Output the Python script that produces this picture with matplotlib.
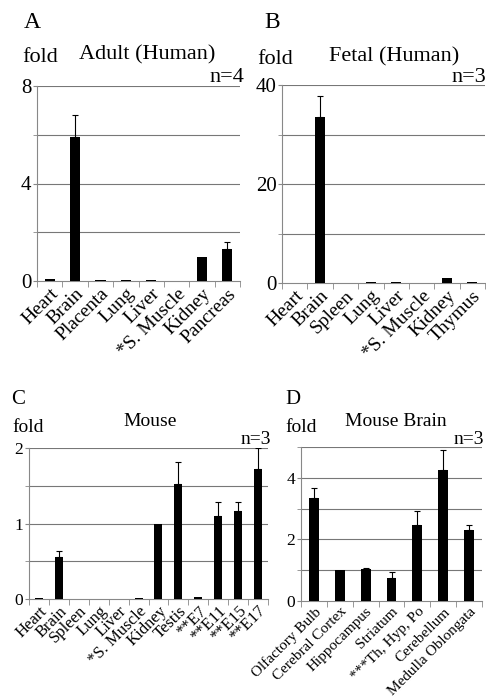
import numpy as np
import matplotlib.pyplot as plt
from matplotlib.ticker import FixedLocator

plt.rcParams['font.family'] = ['Liberation Serif', 'DejaVu Serif']

# panel A - adult human
a_labels = ['Heart', 'Brain', 'Placenta', 'Lung', 'Liver', '*S. Muscle', 'Kidney', 'Pancreas']
a_vals = [0.07, 5.9, 0.03, 0.03, 0.05, 0.0, 1.0, 1.33]
a_err = [0.0, 0.9, 0.0, 0.0, 0.0, 0.0, 0.0, 0.27]

# panel B - fetal human
b_labels = ['Heart', 'Brain', 'Spleen', 'Lung', 'Liver', '*S. Muscle', 'Kidney', 'Thymus']
b_vals = [0.0, 33.5, 0.0, 0.2, 0.2, 0.0, 1.0, 0.2]
b_err = [0.0, 4.3, 0.0, 0.0, 0.0, 0.0, 0.0, 0.0]

# panel C - mouse
c_labels = ['Heart', 'Brain', 'Spleen', 'Lung', 'Liver', '*S. Muscle', 'Kidney', 'Testis',
            '**E7', '**E11', '**E15', '**E17']
c_vals = [0.01, 0.55, 0.005, 0.005, 0.0, 0.01, 1.0, 1.52, 0.02, 1.1, 1.17, 1.72]
c_err = [0.0, 0.09, 0.0, 0.0, 0.0, 0.0, 0.0, 0.29, 0.0, 0.18, 0.11, 0.28]

# panel D - mouse brain
d_labels = ['Olfactory Bulb', 'Cerebral Cortex', 'Hippocampus', 'Striatum',
            '***Th, Hyp, Po', 'Cerebellum', 'Medulla Oblongata']
d_vals = [3.35, 1.0, 1.05, 0.75, 2.48, 4.25, 2.3]
d_err = [0.32, 0.0, 0.02, 0.2, 0.44, 0.65, 0.18]

W, H = 486, 700
fig = plt.figure(figsize=(W / 100, H / 100), dpi=100)


def px(x0, y0, x1, y1):
    return [x0 / W, 1 - y1 / H, (x1 - x0) / W, (y1 - y0) / H]


def txt(x, y, s, size, ha='left'):
    fig.text(x / W, 1 - y / H, s, fontsize=size, ha=ha, va='center')


def panel(rect, labels, vals, err, ymax, ticks, grid, width, lsize, tsize):
    ax = fig.add_axes(rect)
    x = np.arange(len(vals))
    ax.bar(x, vals, width=width, color='black', zorder=3)
    e = np.array(err)
    m = e > 0
    ax.errorbar(x[m], np.array(vals)[m], yerr=[np.zeros(m.sum()), e[m]],
                fmt='none', ecolor='black', elinewidth=0.8, capsize=2, capthick=0.8, zorder=4)
    ax.set_xlim(-0.5, len(vals) - 0.5)
    ax.set_ylim(0, ymax)
    for g in grid:
        ax.axhline(g, color='#777777', lw=0.8, zorder=1)
    ax.set_yticks(ticks)
    ax.yaxis.set_minor_locator(FixedLocator(grid))
    ax.tick_params(axis='y', which='both', length=3, color='#888888', labelsize=tsize, pad=1)
    ax.set_xticks(x)
    ax.set_xticklabels(labels, rotation=45, ha='right', rotation_mode='anchor', fontsize=lsize)
    ax.xaxis.set_minor_locator(FixedLocator(np.arange(len(vals) + 1) - 0.5))
    ax.tick_params(axis='x', which='major', length=0, pad=3)
    ax.tick_params(axis='x', which='minor', length=4, color='#888888')
    for s in ['top', 'right']:
        ax.spines[s].set_visible(False)
    for s in ['left', 'bottom']:
        ax.spines[s].set_color('#888888')
        ax.spines[s].set_linewidth(0.8)
    return ax


panel(px(37, 86, 240, 281), a_labels, a_vals, a_err, 8, [0, 4, 8], [2, 4, 6, 8], 0.4, 14, 15)
panel(px(282, 85, 485, 283), b_labels, b_vals, b_err, 40, [0, 20, 40], [10, 20, 30, 40], 0.4, 14, 15)
panel(px(29, 448, 268, 599), c_labels, c_vals, c_err, 2, [0, 1, 2], [0.5, 1, 1.5, 2], 0.4, 12, 12.5)
panel(px(301, 447, 482, 601), d_labels, d_vals, d_err, 5, [0, 2, 4], [1, 2, 3, 4, 5], 0.38, 11, 12.5)

txt(24, 23, 'A', 17)
txt(22, 58, 'fold', 16)
txt(147, 55, 'Adult (Human)', 16, ha='center')
txt(244, 77, 'n=4', 16, ha='right')

txt(264, 23, 'B', 17)
txt(257, 60, 'fold', 16)
txt(394, 57, 'Fetal (Human)', 16, ha='center')
txt(486, 77, 'n=3', 16, ha='right')

txt(11, 400, 'C', 15)
txt(12, 427, 'fold', 14)
txt(150, 421, 'Mouse', 14, ha='center')
txt(271, 440, 'n=3', 14, ha='right')

txt(285, 400, 'D', 15)
txt(285, 427, 'fold', 14)
txt(396, 421, 'Mouse Brain', 14, ha='center')
txt(484, 440, 'n=3', 14, ha='right')

fig.savefig('out.png', dpi=100)
